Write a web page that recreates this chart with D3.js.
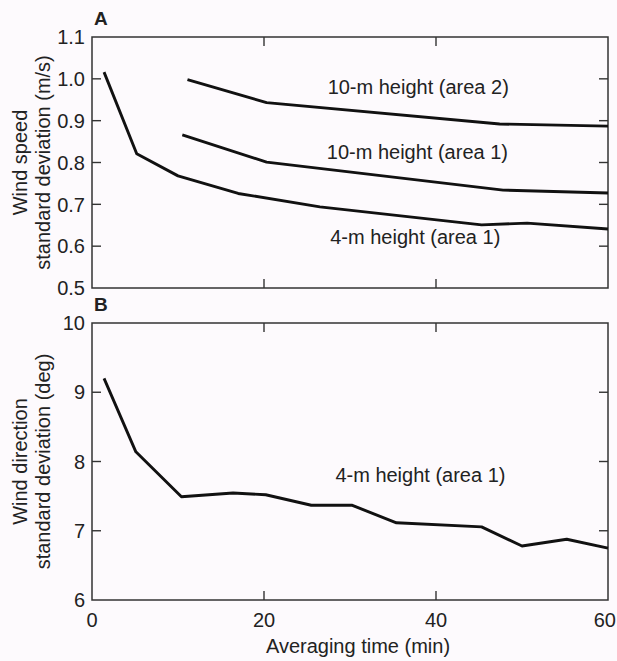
<!DOCTYPE html>
<html>
<head>
<meta charset="utf-8">
<script src="https://cdn.jsdelivr.net/npm/d3@7"></script>
<style>
html,body{margin:0;padding:0;background:#fdfafd;}
svg{display:block;font-family:"Liberation Sans",Arial,sans-serif;}
</style>
</head>
<body>
<svg id="chart" width="617" height="661"></svg>
<script>
// ---- data ----
const xTicks = [0, 20, 40, 60];
const yTicksA = [0.5, 0.6, 0.7, 0.8, 0.9, 1.0, 1.1];
const yTicksB = [6, 7, 8, 9, 10];

const speed4mArea1 = [[1.4,1.016],[5.2,0.821],[10,0.768],[17,0.726],[26.5,0.694],[45.3,0.651],[50.6,0.655],[60,0.641]];
const speed10mArea1 = [[10.5,0.866],[20.3,0.801],[47.8,0.734],[60,0.727]];
const speed10mArea2 = [[11.1,0.998],[20.3,0.943],[47.4,0.892],[60,0.887]];
const dir4mArea1 = [[1.4,9.2],[5.1,8.14],[10.4,7.49],[16.4,7.545],[20.2,7.52],[25.5,7.368],[30.2,7.37],[35.4,7.115],[45.3,7.056],[50,6.78],[55.2,6.877],[60,6.748]];

const labelsA = [
  {text:"10-m height (area 2)", x:27.4, y:0.9635},
  {text:"10-m height (area 1)", x:27.3, y:0.8085},
  {text:"4-m height (area 1)", x:27.7, y:0.605}
];
const labelsB = [{text:"4-m height  (area 1)", x:28.3, y:7.71}];

// ---- layout ----
const svg = d3.select("#chart");
const L = 92, R = 608;
const x = d3.scaleLinear().domain([0,60]).range([L,R]);
const yA = d3.scaleLinear().domain([0.5,1.1]).range([288,37]);
const yB = d3.scaleLinear().domain([6,10]).range([600,323]);
const fs = 20;
const frameColor = "#333";

function panel(y, yTicks, fmt, series, labels, letter, ylab1, ylab2, showX) {
  const g = svg.append("g");
  const [y0,y1] = y.range();
  const tl = 9;
  xTicks.slice(1,-1).forEach(t=>{
    g.append("line").attr("x1",x(t)).attr("x2",x(t)).attr("y1",y1).attr("y2",y1+tl)
      .attr("stroke",frameColor).attr("stroke-width",1.4);
    g.append("line").attr("x1",x(t)).attr("x2",x(t)).attr("y1",y0).attr("y2",y0-tl)
      .attr("stroke",frameColor).attr("stroke-width",1.4);
  });
  yTicks.slice(1,-1).forEach(t=>{
    g.append("line").attr("x1",L).attr("x2",L+tl).attr("y1",y(t)).attr("y2",y(t))
      .attr("stroke",frameColor).attr("stroke-width",1.4);
    g.append("line").attr("x1",R).attr("x2",R-tl).attr("y1",y(t)).attr("y2",y(t))
      .attr("stroke",frameColor).attr("stroke-width",1.4);
  });
  g.append("rect").attr("x",L).attr("y",y1).attr("width",R-L).attr("height",y0-y1)
    .attr("fill","none").attr("stroke",frameColor).attr("stroke-width",1.5);
  yTicks.forEach(t=>{
    g.append("text").attr("x",L-7).attr("y",y(t)).attr("dy","0.36em")
      .attr("text-anchor","end").attr("font-size",fs).attr("fill","#222").text(fmt(t));
  });
  const line = d3.line().x(d=>x(d[0])).y(d=>y(d[1]));
  series.forEach(s=>{
    g.append("path").attr("d",line(s)).attr("fill","none").attr("stroke","#111")
      .attr("stroke-width",2.9).attr("stroke-linejoin","round");
  });
  labels.forEach(l=>{
    g.append("text").attr("x",x(l.x)).attr("y",y(l.y)).attr("font-size",fs)
      .attr("fill","#222").text(l.text);
  });
  g.append("text").attr("x",L+2).attr("y",y1-12).attr("font-size",19).attr("font-weight","bold")
    .attr("fill","#222").text(letter);
  const cy = (y0+y1)/2;
  g.append("text").attr("transform",`translate(27,${cy}) rotate(-90)`).attr("text-anchor","middle")
    .attr("font-size",fs).attr("fill","#222").text(ylab1);
  g.append("text").attr("transform",`translate(50,${cy}) rotate(-90)`).attr("text-anchor","middle")
    .attr("font-size",fs).attr("fill","#222").text(ylab2);
  if (showX) {
    xTicks.forEach((t,i)=>{
      const last = i === xTicks.length-1;
      g.append("text").attr("x",last ? 616 : x(t)).attr("y",y0+27)
        .attr("text-anchor",last ? "end" : "middle")
        .attr("font-size",fs).attr("fill","#222").text(t);
    });
  }
}

panel(yA, yTicksA, d3.format(".1f"), [speed10mArea2, speed10mArea1, speed4mArea1], labelsA,
  "A", "Wind speed", "standard deviation (m/s)", false);
panel(yB, yTicksB, d3.format("d"), [dir4mArea1], labelsB,
  "B", "Wind direction", "standard deviation (deg)", true);

svg.append("text").attr("x",(L+R)/2+8).attr("y",653).attr("text-anchor","middle")
  .attr("font-size",fs).attr("fill","#222").text("Averaging time (min)");
</script>
</body>
</html>
